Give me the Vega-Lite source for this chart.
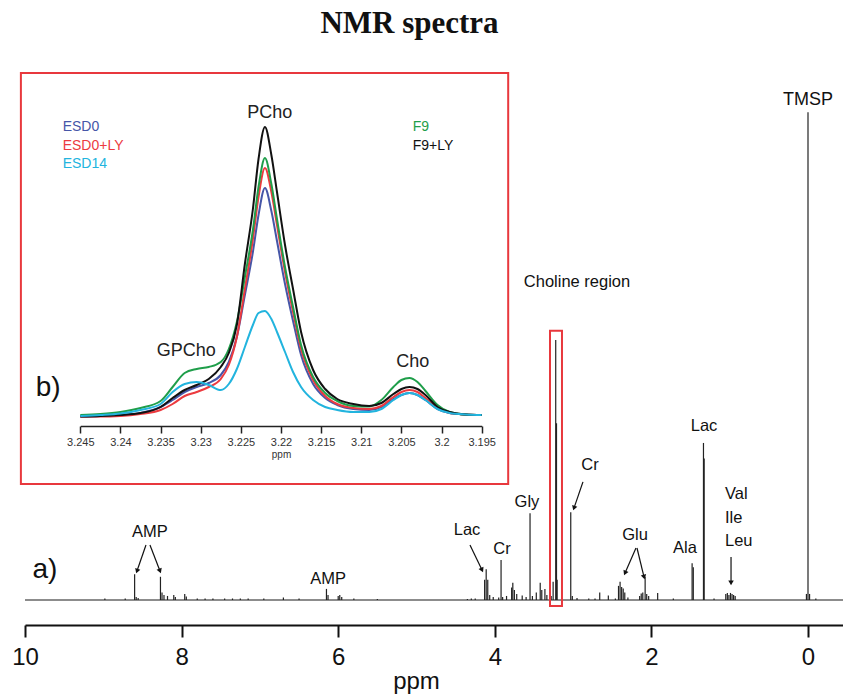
{
  "$schema": "https://vega.github.io/schema/vega-lite/v6.json",
  "width": 843,
  "height": 585,
  "autosize": {"type": "none"},
  "padding": {"left": 0, "right": 0, "top": 40, "bottom": 71},
  "background": "white",
  "title": {"text": "NMR spectra", "font": "Liberation Serif", "fontSize": 31, "fontWeight": "bold", "color": "#111", "anchor": "middle", "dx": -12, "offset": 0},
  "config": {"view": {"stroke": null}, "text": {"font": "Liberation Sans"}},
  "datasets": {
    "baseline": [{"ppm": 10, "ppm2": -0.447, "int": 0}],
    "peaks": [
      {"ppm": 8.98, "int": 0.3}, {"ppm": 8.72, "int": 0.3}, {"ppm": 8.60, "int": 5.1}, {"ppm": 8.58, "int": 0.6}, {"ppm": 8.555, "int": 0.4},
      {"ppm": 8.27, "int": 4.6}, {"ppm": 8.25, "int": 1.5}, {"ppm": 8.225, "int": 1.0}, {"ppm": 8.18, "int": 0.8}, {"ppm": 8.10, "int": 1.0},
      {"ppm": 8.08, "int": 0.6}, {"ppm": 7.96, "int": 1.2}, {"ppm": 7.94, "int": 0.7}, {"ppm": 7.80, "int": 0.3}, {"ppm": 7.70, "int": 0.3},
      {"ppm": 7.60, "int": 0.3}, {"ppm": 7.45, "int": 0.3}, {"ppm": 7.35, "int": 0.3}, {"ppm": 7.25, "int": 0.3}, {"ppm": 7.15, "int": 0.3},
      {"ppm": 6.95, "int": 0.3}, {"ppm": 6.70, "int": 0.5}, {"ppm": 6.50, "int": 0.3}, {"ppm": 6.15, "int": 2.2}, {"ppm": 6.13, "int": 1.0},
      {"ppm": 6.00, "int": 0.8}, {"ppm": 5.98, "int": 1.0}, {"ppm": 5.955, "int": 0.6}, {"ppm": 5.80, "int": 0.3}, {"ppm": 5.50, "int": 0.2},
      {"ppm": 4.35, "int": 0.2}, {"ppm": 4.30, "int": 0.3}, {"ppm": 4.25, "int": 0.3}, {"ppm": 4.13, "int": 4.0}, {"ppm": 4.11, "int": 6.1},
      {"ppm": 4.09, "int": 4.0}, {"ppm": 4.065, "int": 1.0}, {"ppm": 4.02, "int": 0.6}, {"ppm": 3.95, "int": 0.5}, {"ppm": 3.92, "int": 7.9},
      {"ppm": 3.90, "int": 0.6}, {"ppm": 3.85, "int": 0.8}, {"ppm": 3.785, "int": 2.5}, {"ppm": 3.77, "int": 3.4}, {"ppm": 3.75, "int": 2.0},
      {"ppm": 3.72, "int": 1.2}, {"ppm": 3.65, "int": 0.9}, {"ppm": 3.60, "int": 0.6}, {"ppm": 3.55, "int": 17.2}, {"ppm": 3.52, "int": 0.8},
      {"ppm": 3.47, "int": 1.5}, {"ppm": 3.42, "int": 3.4}, {"ppm": 3.40, "int": 2.0}, {"ppm": 3.36, "int": 2.2}, {"ppm": 3.335, "int": 1.0},
      {"ppm": 3.28, "int": 0.8}, {"ppm": 3.255, "int": 3.6}, {"ppm": 3.222, "int": 51.5}, {"ppm": 3.212, "int": 35}, {"ppm": 3.204, "int": 4},
      {"ppm": 3.03, "int": 17.4}, {"ppm": 3.01, "int": 0.8}, {"ppm": 2.95, "int": 0.4}, {"ppm": 2.80, "int": 0.3}, {"ppm": 2.72, "int": 0.3},
      {"ppm": 2.66, "int": 1.5}, {"ppm": 2.55, "int": 0.9}, {"ppm": 2.46, "int": 0.3}, {"ppm": 2.42, "int": 2.8}, {"ppm": 2.40, "int": 3.6},
      {"ppm": 2.38, "int": 2.6}, {"ppm": 2.36, "int": 2.3}, {"ppm": 2.34, "int": 1.5}, {"ppm": 2.30, "int": 0.5}, {"ppm": 2.15, "int": 0.8},
      {"ppm": 2.13, "int": 1.3}, {"ppm": 2.11, "int": 1.5}, {"ppm": 2.08, "int": 4.6}, {"ppm": 2.06, "int": 1.2}, {"ppm": 2.035, "int": 0.8},
      {"ppm": 1.92, "int": 1.4}, {"ppm": 1.72, "int": 0.3}, {"ppm": 1.48, "int": 7.3}, {"ppm": 1.465, "int": 6.5}, {"ppm": 1.335, "int": 31.1},
      {"ppm": 1.326, "int": 28}, {"ppm": 1.20, "int": 0.3}, {"ppm": 1.05, "int": 1.2}, {"ppm": 1.03, "int": 1.4}, {"ppm": 1.01, "int": 1.0},
      {"ppm": 0.99, "int": 1.4}, {"ppm": 0.97, "int": 1.2}, {"ppm": 0.95, "int": 1.0}, {"ppm": 0.93, "int": 0.8}, {"ppm": 0.02, "int": 1.2},
      {"ppm": 0.0, "int": 96.6}, {"ppm": -0.02, "int": 1.2}, {"ppm": -0.10, "int": 0.3}
    ],
    "mainLabels": [
      {"label": "Choline region", "ppm": 2.95, "int": 63.0},
      {"label": "Lac", "ppm": 1.328, "int": 34.5},
      {"label": "Cr", "ppm": 2.784, "int": 26.7},
      {"label": "Gly", "ppm": 3.589, "int": 19.4},
      {"label": "Glu", "ppm": 2.209, "int": 12.9},
      {"label": "Ala", "ppm": 1.571, "int": 10.3},
      {"label": "Lac", "ppm": 4.355, "int": 13.9},
      {"label": "Cr", "ppm": 3.908, "int": 10.1},
      {"label": "AMP", "ppm": 8.404, "int": 13.5},
      {"label": "AMP", "ppm": 6.13, "int": 4.16}
    ],
    "aaLabels": [
      {"label": "Val", "ppm": 1.06, "int": 21.0},
      {"label": "Ile", "ppm": 1.06, "int": 16.2},
      {"label": "Leu", "ppm": 1.06, "int": 11.7}
    ],
    "tmsp": [{"label": "TMSP", "ppm": 0.0, "int": 99.1}],
    "panelA": [{"label": "a)", "ppm": 9.745, "int": 5.9}],
    "cholineBox": [{"ppm": 3.295, "ppm2": 3.142, "int": 53.3, "int2": -1.2}],
    "arrows": [
      {"ppm": 8.455, "int": 10.9, "ppm2": 8.57, "int2": 5.74, "dir": 19},
      {"ppm": 8.404, "int": 10.9, "ppm2": 8.276, "int2": 5.74, "dir": -21},
      {"ppm": 4.317, "int": 10.9, "ppm2": 4.163, "int2": 5.94, "dir": -26},
      {"ppm": 2.874, "int": 23.4, "ppm2": 2.989, "int2": 18.2, "dir": 19},
      {"ppm": 2.197, "int": 10.3, "ppm2": 2.337, "int2": 5.35, "dir": 24},
      {"ppm": 2.184, "int": 10.3, "ppm2": 2.094, "int2": 4.55, "dir": -14},
      {"ppm": 0.983, "int": 8.5, "ppm2": 0.983, "int2": 3.37, "dir": 0}
    ],
    "frame": [{"ppm": 3.2524, "ppm2": 3.1917, "int": 344, "int2": -67}],
    "curves": [
      {"s": "ESD0", "ppm": 3.245, "int": 0.5}, {"s": "ESD0", "ppm": 3.2425, "int": 1}, {"s": "ESD0", "ppm": 3.24, "int": 2}, {"s": "ESD0", "ppm": 3.2375, "int": 4},
      {"s": "ESD0", "ppm": 3.235, "int": 10}, {"s": "ESD0", "ppm": 3.2335, "int": 17}, {"s": "ESD0", "ppm": 3.232, "int": 25}, {"s": "ESD0", "ppm": 3.2305, "int": 30},
      {"s": "ESD0", "ppm": 3.229, "int": 34}, {"s": "ESD0", "ppm": 3.2275, "int": 42}, {"s": "ESD0", "ppm": 3.2265, "int": 55}, {"s": "ESD0", "ppm": 3.2255, "int": 80},
      {"s": "ESD0", "ppm": 3.2245, "int": 122}, {"s": "ESD0", "ppm": 3.2235, "int": 165}, {"s": "ESD0", "ppm": 3.2228, "int": 202}, {"s": "ESD0", "ppm": 3.222, "int": 229},
      {"s": "ESD0", "ppm": 3.2212, "int": 206}, {"s": "ESD0", "ppm": 3.2205, "int": 176}, {"s": "ESD0", "ppm": 3.2195, "int": 133}, {"s": "ESD0", "ppm": 3.2185, "int": 96},
      {"s": "ESD0", "ppm": 3.2175, "int": 62}, {"s": "ESD0", "ppm": 3.216, "int": 33}, {"s": "ESD0", "ppm": 3.2145, "int": 19}, {"s": "ESD0", "ppm": 3.213, "int": 12},
      {"s": "ESD0", "ppm": 3.211, "int": 8}, {"s": "ESD0", "ppm": 3.209, "int": 7}, {"s": "ESD0", "ppm": 3.2075, "int": 10}, {"s": "ESD0", "ppm": 3.206, "int": 18},
      {"s": "ESD0", "ppm": 3.205, "int": 22}, {"s": "ESD0", "ppm": 3.204, "int": 24}, {"s": "ESD0", "ppm": 3.203, "int": 22}, {"s": "ESD0", "ppm": 3.202, "int": 17},
      {"s": "ESD0", "ppm": 3.2005, "int": 8}, {"s": "ESD0", "ppm": 3.199, "int": 4}, {"s": "ESD0", "ppm": 3.197, "int": 2.5}, {"s": "ESD0", "ppm": 3.195, "int": 2},

      {"s": "ESD0+LY", "ppm": 3.245, "int": 0.5}, {"s": "ESD0+LY", "ppm": 3.2425, "int": 0.5}, {"s": "ESD0+LY", "ppm": 3.24, "int": 1}, {"s": "ESD0+LY", "ppm": 3.2375, "int": 3},
      {"s": "ESD0+LY", "ppm": 3.235, "int": 7}, {"s": "ESD0+LY", "ppm": 3.2335, "int": 13}, {"s": "ESD0+LY", "ppm": 3.232, "int": 21}, {"s": "ESD0+LY", "ppm": 3.2305, "int": 25},
      {"s": "ESD0+LY", "ppm": 3.229, "int": 30}, {"s": "ESD0+LY", "ppm": 3.2275, "int": 38}, {"s": "ESD0+LY", "ppm": 3.2265, "int": 52}, {"s": "ESD0+LY", "ppm": 3.2255, "int": 80},
      {"s": "ESD0+LY", "ppm": 3.2245, "int": 128}, {"s": "ESD0+LY", "ppm": 3.2235, "int": 178}, {"s": "ESD0+LY", "ppm": 3.2228, "int": 220}, {"s": "ESD0+LY", "ppm": 3.222, "int": 249},
      {"s": "ESD0+LY", "ppm": 3.2212, "int": 225}, {"s": "ESD0+LY", "ppm": 3.2205, "int": 192}, {"s": "ESD0+LY", "ppm": 3.2195, "int": 145}, {"s": "ESD0+LY", "ppm": 3.2185, "int": 105},
      {"s": "ESD0+LY", "ppm": 3.2175, "int": 68}, {"s": "ESD0+LY", "ppm": 3.216, "int": 37}, {"s": "ESD0+LY", "ppm": 3.2145, "int": 21}, {"s": "ESD0+LY", "ppm": 3.213, "int": 13},
      {"s": "ESD0+LY", "ppm": 3.211, "int": 9}, {"s": "ESD0+LY", "ppm": 3.209, "int": 8}, {"s": "ESD0+LY", "ppm": 3.2075, "int": 11}, {"s": "ESD0+LY", "ppm": 3.206, "int": 20},
      {"s": "ESD0+LY", "ppm": 3.205, "int": 25}, {"s": "ESD0+LY", "ppm": 3.204, "int": 27}, {"s": "ESD0+LY", "ppm": 3.203, "int": 25}, {"s": "ESD0+LY", "ppm": 3.202, "int": 19},
      {"s": "ESD0+LY", "ppm": 3.2005, "int": 9}, {"s": "ESD0+LY", "ppm": 3.199, "int": 4}, {"s": "ESD0+LY", "ppm": 3.197, "int": 2.5}, {"s": "ESD0+LY", "ppm": 3.195, "int": 2},

      {"s": "F9", "ppm": 3.245, "int": 2}, {"s": "F9", "ppm": 3.2425, "int": 3}, {"s": "F9", "ppm": 3.24, "int": 5}, {"s": "F9", "ppm": 3.2375, "int": 9},
      {"s": "F9", "ppm": 3.235, "int": 16}, {"s": "F9", "ppm": 3.2335, "int": 30}, {"s": "F9", "ppm": 3.232, "int": 44}, {"s": "F9", "ppm": 3.2305, "int": 48},
      {"s": "F9", "ppm": 3.229, "int": 50}, {"s": "F9", "ppm": 3.2275, "int": 55}, {"s": "F9", "ppm": 3.2265, "int": 68}, {"s": "F9", "ppm": 3.2255, "int": 95},
      {"s": "F9", "ppm": 3.2245, "int": 140}, {"s": "F9", "ppm": 3.2235, "int": 187}, {"s": "F9", "ppm": 3.2228, "int": 230}, {"s": "F9", "ppm": 3.222, "int": 259},
      {"s": "F9", "ppm": 3.2212, "int": 233}, {"s": "F9", "ppm": 3.2205, "int": 198}, {"s": "F9", "ppm": 3.2195, "int": 150}, {"s": "F9", "ppm": 3.2185, "int": 110},
      {"s": "F9", "ppm": 3.2175, "int": 72}, {"s": "F9", "ppm": 3.216, "int": 40}, {"s": "F9", "ppm": 3.2145, "int": 24}, {"s": "F9", "ppm": 3.213, "int": 16},
      {"s": "F9", "ppm": 3.211, "int": 11}, {"s": "F9", "ppm": 3.209, "int": 10.5}, {"s": "F9", "ppm": 3.2075, "int": 17}, {"s": "F9", "ppm": 3.206, "int": 30},
      {"s": "F9", "ppm": 3.205, "int": 37}, {"s": "F9", "ppm": 3.204, "int": 39}, {"s": "F9", "ppm": 3.203, "int": 35}, {"s": "F9", "ppm": 3.202, "int": 26},
      {"s": "F9", "ppm": 3.2005, "int": 12}, {"s": "F9", "ppm": 3.199, "int": 5}, {"s": "F9", "ppm": 3.197, "int": 2.5}, {"s": "F9", "ppm": 3.195, "int": 2},

      {"s": "F9+LY", "ppm": 3.245, "int": 0.5}, {"s": "F9+LY", "ppm": 3.2425, "int": 1}, {"s": "F9+LY", "ppm": 3.24, "int": 2}, {"s": "F9+LY", "ppm": 3.2375, "int": 4},
      {"s": "F9+LY", "ppm": 3.235, "int": 10}, {"s": "F9+LY", "ppm": 3.2335, "int": 19}, {"s": "F9+LY", "ppm": 3.232, "int": 27}, {"s": "F9+LY", "ppm": 3.2305, "int": 32},
      {"s": "F9+LY", "ppm": 3.229, "int": 38}, {"s": "F9+LY", "ppm": 3.2275, "int": 50}, {"s": "F9+LY", "ppm": 3.2265, "int": 64}, {"s": "F9+LY", "ppm": 3.2255, "int": 92},
      {"s": "F9+LY", "ppm": 3.2245, "int": 153}, {"s": "F9+LY", "ppm": 3.2235, "int": 208}, {"s": "F9+LY", "ppm": 3.2228, "int": 258}, {"s": "F9+LY", "ppm": 3.222, "int": 290},
      {"s": "F9+LY", "ppm": 3.2212, "int": 262}, {"s": "F9+LY", "ppm": 3.2205, "int": 225}, {"s": "F9+LY", "ppm": 3.2195, "int": 172}, {"s": "F9+LY", "ppm": 3.2185, "int": 128},
      {"s": "F9+LY", "ppm": 3.2175, "int": 85}, {"s": "F9+LY", "ppm": 3.216, "int": 47}, {"s": "F9+LY", "ppm": 3.2145, "int": 28}, {"s": "F9+LY", "ppm": 3.213, "int": 18},
      {"s": "F9+LY", "ppm": 3.211, "int": 13}, {"s": "F9+LY", "ppm": 3.209, "int": 11}, {"s": "F9+LY", "ppm": 3.2075, "int": 14}, {"s": "F9+LY", "ppm": 3.206, "int": 23},
      {"s": "F9+LY", "ppm": 3.205, "int": 28}, {"s": "F9+LY", "ppm": 3.204, "int": 30}, {"s": "F9+LY", "ppm": 3.203, "int": 28}, {"s": "F9+LY", "ppm": 3.202, "int": 22},
      {"s": "F9+LY", "ppm": 3.2005, "int": 10}, {"s": "F9+LY", "ppm": 3.199, "int": 5}, {"s": "F9+LY", "ppm": 3.197, "int": 2.5}, {"s": "F9+LY", "ppm": 3.195, "int": 2},

      {"s": "ESD14", "ppm": 3.245, "int": 1}, {"s": "ESD14", "ppm": 3.2425, "int": 2}, {"s": "ESD14", "ppm": 3.24, "int": 3.5}, {"s": "ESD14", "ppm": 3.2375, "int": 7},
      {"s": "ESD14", "ppm": 3.235, "int": 13}, {"s": "ESD14", "ppm": 3.2335, "int": 25}, {"s": "ESD14", "ppm": 3.232, "int": 33}, {"s": "ESD14", "ppm": 3.2305, "int": 35},
      {"s": "ESD14", "ppm": 3.229, "int": 32}, {"s": "ESD14", "ppm": 3.2275, "int": 27}, {"s": "ESD14", "ppm": 3.2265, "int": 33}, {"s": "ESD14", "ppm": 3.2255, "int": 48},
      {"s": "ESD14", "ppm": 3.2245, "int": 70}, {"s": "ESD14", "ppm": 3.2235, "int": 92}, {"s": "ESD14", "ppm": 3.2228, "int": 104}, {"s": "ESD14", "ppm": 3.222, "int": 106},
      {"s": "ESD14", "ppm": 3.2212, "int": 98}, {"s": "ESD14", "ppm": 3.2205, "int": 85}, {"s": "ESD14", "ppm": 3.2195, "int": 65}, {"s": "ESD14", "ppm": 3.2185, "int": 45},
      {"s": "ESD14", "ppm": 3.2175, "int": 30}, {"s": "ESD14", "ppm": 3.216, "int": 17}, {"s": "ESD14", "ppm": 3.2145, "int": 10}, {"s": "ESD14", "ppm": 3.213, "int": 7},
      {"s": "ESD14", "ppm": 3.211, "int": 5}, {"s": "ESD14", "ppm": 3.209, "int": 5}, {"s": "ESD14", "ppm": 3.2075, "int": 8}, {"s": "ESD14", "ppm": 3.206, "int": 17},
      {"s": "ESD14", "ppm": 3.205, "int": 22}, {"s": "ESD14", "ppm": 3.204, "int": 24}, {"s": "ESD14", "ppm": 3.203, "int": 22}, {"s": "ESD14", "ppm": 3.202, "int": 17},
      {"s": "ESD14", "ppm": 3.2005, "int": 8}, {"s": "ESD14", "ppm": 3.199, "int": 4}, {"s": "ESD14", "ppm": 3.197, "int": 2.5}, {"s": "ESD14", "ppm": 3.195, "int": 2}
    ],
    "legend": [
      {"s": "ESD0", "ppm": 3.2472, "int": 290},
      {"s": "ESD0+LY", "ppm": 3.2472, "int": 271},
      {"s": "ESD14", "ppm": 3.2472, "int": 253},
      {"s": "F9", "ppm": 3.2036, "int": 290},
      {"s": "F9+LY", "ppm": 3.2036, "int": 271}
    ],
    "insetLabels": [
      {"label": "PCho", "ppm": 3.2214, "int": 304},
      {"label": "GPCho", "ppm": 3.2318, "int": 66},
      {"label": "Cho", "ppm": 3.2036, "int": 55}
    ],
    "panelB": [{"label": "b)", "ppm": 3.249, "int": 29}]
  },
  "layer": [
    {
      "encoding": {
        "x": {"field": "ppm", "type": "quantitative",
          "scale": {"domain": [-0.447, 10], "range": [843, 25], "nice": false, "zero": false},
          "axis": {"orient": "bottom", "values": [10, 8, 6, 4, 2, 0], "format": "d", "grid": false,
            "domainColor": "#111", "domainWidth": 2, "tickColor": "#111", "tickWidth": 2, "tickSize": 12,
            "labelFont": "Liberation Sans", "labelFontSize": 24, "labelColor": "#111", "labelPadding": 8, "labelFlush": false,
            "title": "ppm", "titleFont": "Liberation Sans", "titleFontSize": 24, "titleFontWeight": "normal", "titleColor": "#111", "titlePadding": 0, "titleX": 416}},
        "y": {"field": "int", "type": "quantitative",
          "scale": {"domain": [-4.95, 110.9], "nice": false, "zero": false}, "axis": null}
      },
      "layer": [
        {"data": {"name": "baseline"}, "mark": {"type": "rule", "color": "#666", "strokeWidth": 1.5}, "encoding": {"x2": {"field": "ppm2"}}},
        {"data": {"name": "peaks"}, "mark": {"type": "rule", "color": "#222", "strokeWidth": 1.2}, "encoding": {"y2": {"datum": 0}}},
        {"data": {"name": "cholineBox"}, "mark": {"type": "rect", "fill": null, "fillOpacity": 0, "stroke": "#e8383d", "strokeWidth": 2},
          "encoding": {"x2": {"field": "ppm2"}, "y2": {"field": "int2"}}},
        {"data": {"name": "arrows"}, "mark": {"type": "rule", "color": "#111", "strokeWidth": 1.2},
          "encoding": {"x2": {"field": "ppm2"}, "y2": {"field": "int2"}}},
        {"data": {"name": "arrows"}, "mark": {"type": "point", "shape": "triangle-down", "filled": true, "color": "#111", "size": 30, "opacity": 1},
          "encoding": {"x": {"field": "ppm2", "type": "quantitative"}, "y": {"field": "int2", "type": "quantitative"}, "angle": {"field": "dir", "type": "quantitative", "scale": null}}},
        {"data": {"name": "mainLabels"}, "mark": {"type": "text", "fontSize": 16.5, "color": "#111", "align": "center", "baseline": "middle"},
          "encoding": {"text": {"field": "label"}}},
        {"data": {"name": "aaLabels"}, "mark": {"type": "text", "fontSize": 16.5, "color": "#111", "align": "left", "baseline": "middle"},
          "encoding": {"text": {"field": "label"}}},
        {"data": {"name": "tmsp"}, "mark": {"type": "text", "fontSize": 18, "color": "#111", "align": "center", "baseline": "middle"},
          "encoding": {"text": {"field": "label"}}},
        {"data": {"name": "panelA"}, "mark": {"type": "text", "fontSize": 28, "color": "#111", "align": "center", "baseline": "middle"},
          "encoding": {"text": {"field": "label"}}}
      ]
    },
    {
      "encoding": {
        "x": {"field": "ppm", "type": "quantitative",
          "scale": {"domain": [3.195, 3.245], "range": [481.7, 80.3], "nice": false, "zero": false},
          "axis": {"orient": "bottom", "offset": -199, "values": [3.245, 3.24, 3.235, 3.23, 3.225, 3.22, 3.215, 3.21, 3.205, 3.2, 3.195], "format": "~g", "grid": false,
            "domainColor": "#222", "domainWidth": 1.5, "tickColor": "#222", "tickWidth": 1.5, "tickSize": 7,
            "labelFont": "Liberation Sans", "labelFontSize": 11, "labelColor": "#333", "labelPadding": 3, "labelOverlap": false, "labelFlush": false,
            "title": "ppm", "titleFont": "Liberation Sans", "titleFontSize": 10, "titleFontWeight": "normal", "titleColor": "#333", "titlePadding": 2}},
        "y": {"field": "int", "type": "quantitative",
          "scale": {"domain": [0, 291], "range": [377, 86], "nice": false, "zero": false}, "axis": null}
      },
      "layer": [
        {"data": {"name": "frame"}, "mark": {"type": "rect", "fill": null, "fillOpacity": 0, "stroke": "#e8383d", "strokeWidth": 2},
          "encoding": {"x2": {"field": "ppm2"}, "y2": {"field": "int2"}}},
        {"data": {"name": "curves"}, "mark": {"type": "line", "strokeWidth": 2, "interpolate": "monotone"},
          "encoding": {"color": {"field": "s", "type": "nominal", "legend": null,
            "scale": {"domain": ["ESD0", "ESD0+LY", "ESD14", "F9", "F9+LY"], "range": ["#4656a8", "#ec3a3f", "#22b4de", "#1f9e4a", "#111111"]}}}},
        {"data": {"name": "legend"}, "mark": {"type": "text", "fontSize": 14, "align": "left", "baseline": "middle"},
          "encoding": {"text": {"field": "s"}, "color": {"field": "s", "type": "nominal", "legend": null}}},
        {"data": {"name": "insetLabels"}, "mark": {"type": "text", "fontSize": 18, "color": "#222", "align": "center", "baseline": "middle"},
          "encoding": {"text": {"field": "label"}}},
        {"data": {"name": "panelB"}, "mark": {"type": "text", "fontSize": 28, "color": "#111", "align": "center", "baseline": "middle"},
          "encoding": {"text": {"field": "label"}}}
      ]
    }
  ],
  "resolve": {"scale": {"x": "independent", "y": "independent"}, "axis": {"x": "independent", "y": "independent"}}
}
